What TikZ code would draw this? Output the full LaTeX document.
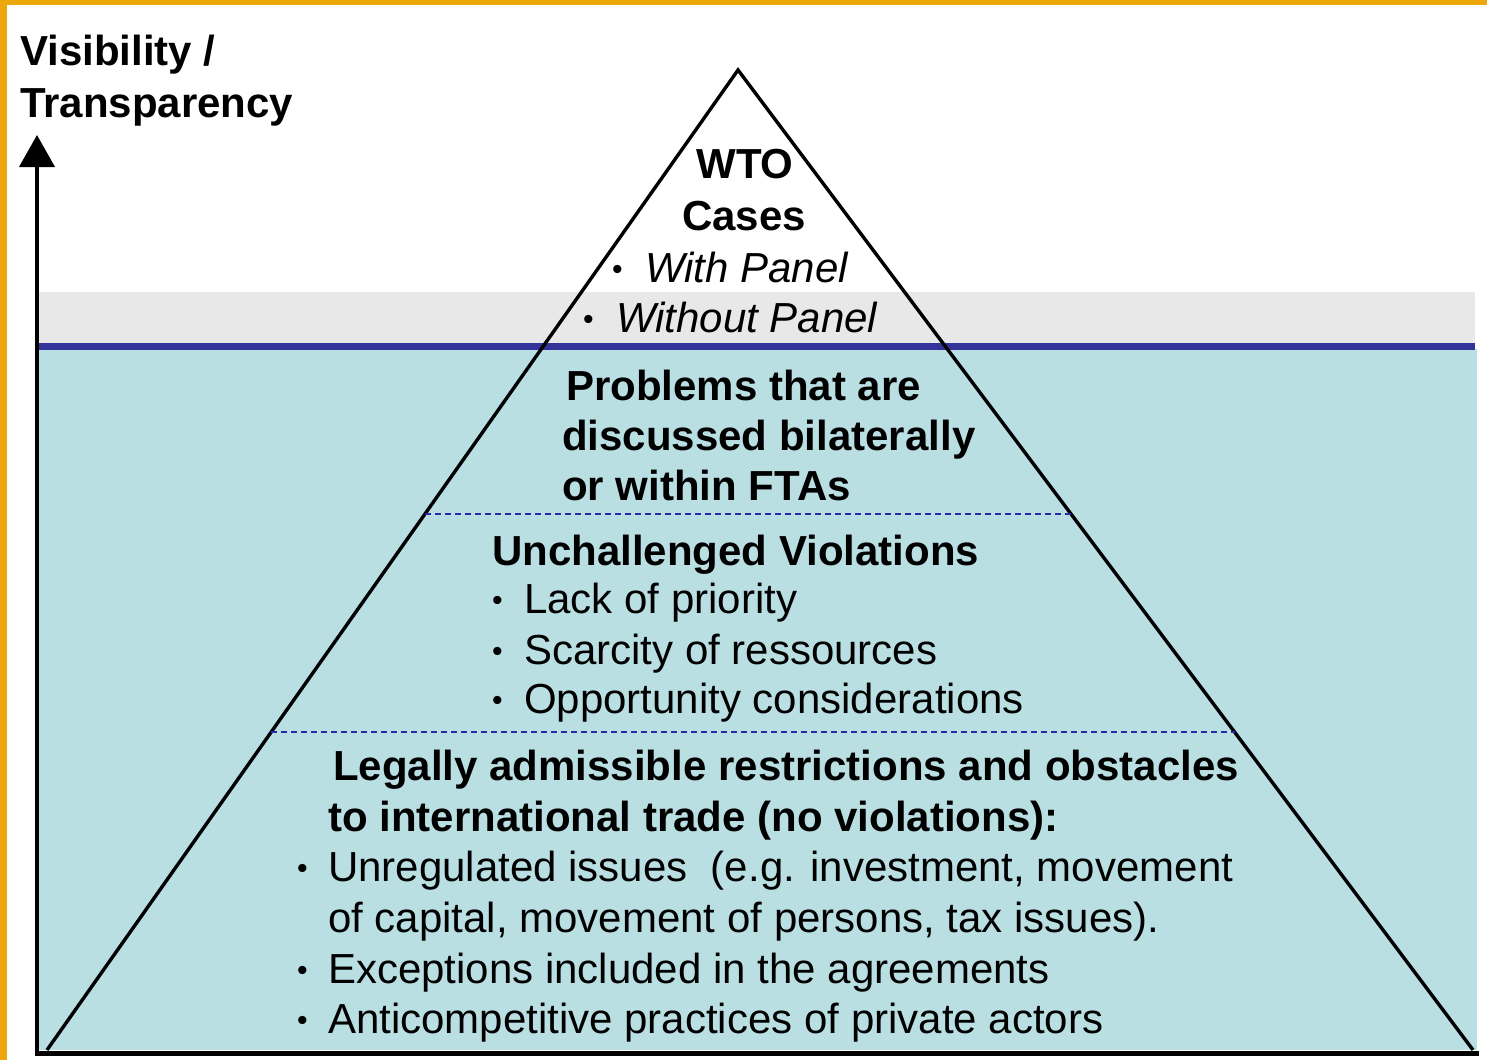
\documentclass[tikz,border=0pt]{standalone}
\usepackage{fontspec}
\setmainfont{Liberation Sans}
\usetikzlibrary{arrows.meta,calc}
\definecolor{orangeb}{RGB}{236,168,10}
\definecolor{grayband}{RGB}{232,232,232}
\definecolor{seacyan}{RGB}{185,223,227}
\definecolor{navyline}{RGB}{51,51,153}
\definecolor{dashblue}{RGB}{40,40,170}
\newcommand{\mybul}[1]{\makebox[#1][l]{\hspace*{2pt}\raisebox{3pt}{\scalebox{0.72}{\upshape •}}}}
\begin{document}
\begin{tikzpicture}[x=1pt,y=-1pt,
  txt/.style={anchor=base west, inner sep=0pt, font=\fontsize{42}{50}\selectfont},
  btxt/.style={txt, font=\fontsize{42}{50}\selectfont\bfseries},
  itxt/.style={txt, font=\fontsize{42}{50}\selectfont\itshape},
  edge/.style={line width=3.4pt, line join=miter},
  dashsep/.style={dashblue, line width=1.8pt, dash pattern=on 6pt off 4pt}]
\useasboundingbox (0,0) rectangle (1487,1060);
% frame and bands
\fill[orangeb] (0,0) rectangle (1487,5);
\fill[orangeb] (0,0) rectangle (7,1060);
\fill[grayband] (37,292) rectangle (1475,343);
\fill[seacyan] (37,349) rectangle (1477,1050);
\draw[navyline, line width=7pt] (37,346) -- (1475,346);
% pyramid
\coordinate (apex) at (738,70);
\coordinate (bl) at (47,1050);
\coordinate (br) at (1473,1050);
\draw[edge] (bl) -- (apex) -- (br);
\draw[dashsep] ($(apex)!0.453!(bl)$) -- ($(apex)!0.453!(br)$);
\draw[dashsep] ($(apex)!0.6755!(bl)$) -- ($(apex)!0.6755!(br)$);
% axes
\coordinate (origin) at (37,1053);
\coordinate (ytop) at (37,135);
\coordinate (xend) at (1476,1053);
\draw[line width=5pt, line cap=rect] (origin) -- (xend);
\draw[line width=4pt, -{Triangle[length=32pt,width=35pt]}] (origin) -- (ytop);
% texts
\node[btxt] (vis) at (20,65) {Visibility /};
\node[btxt] (transp) at (20,117) {Transparency};
\node[btxt, anchor=base] (wto) at (745,178) {WTO};
\node[btxt, anchor=base] (cases) at (744,230) {Cases};
\node[itxt] (withp) at (610,282) {\mybul{35pt}With Panel};
\node[itxt] (withoutp) at (581,332) {\mybul{35pt}Without Panel};
\node[btxt] (prob1) at (566,400) {Problems that are};
\node[btxt] (prob2) at (562,450) {discussed bilaterally};
\node[btxt] (prob3) at (562,500) {or within FTAs};
\node[btxt] (unch) at (492,565) {Unchallenged Violations};
\node[txt] (lack) at (490,613) {\mybul{34pt}Lack of priority};
\node[txt] (scar) at (490,664) {\mybul{34pt}Scarcity of ressources};
\node[txt] (opp) at (490,713) {\mybul{34pt}Opportunity considerations};
\node[btxt] (legal1) at (333,780) {Legally admissible restrictions and obstacles};
\node[btxt] (legal2) at (328,831) {to international trade (no violations):};
\node[txt] (unreg1) at (295,881) {\mybul{33pt}Unregulated issues\ \ (e.g. investment, movement};
\node[txt] (unreg2) at (328,932) {of capital, movement of persons, tax issues).};
\node[txt] (exc) at (295,983) {\mybul{33pt}Exceptions included in the agreements};
\node[txt] (anti) at (295,1033) {\mybul{33pt}Anticompetitive practices of private actors};
\end{tikzpicture}
\end{document}
